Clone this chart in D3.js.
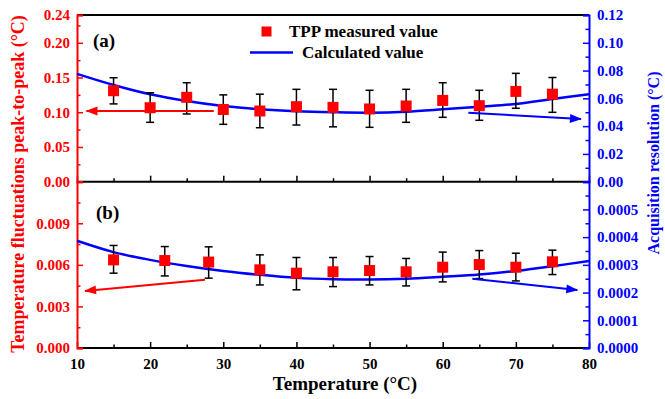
<!DOCTYPE html>
<html>
<head>
<meta charset="utf-8">
<script src="https://cdn.jsdelivr.net/npm/d3@7"></script>
<style>
  body { margin: 0; background: #fff; }
  svg text { font-family: "Liberation Serif", "Tinos", "Times New Roman", "DejaVu Serif", serif !important; font-weight: bold; }
</style>
</head>
<body>
<svg id="chart" width="665" height="399"></svg>
<script>
// measured temperatures
const tempsA = [15, 20, 25, 30, 35, 40, 45, 50, 55, 60, 65, 70, 75];
const tppA = [0.131, 0.1065, 0.1215, 0.104, 0.1018, 0.108, 0.107, 0.1047, 0.109, 0.117, 0.1094, 0.130, 0.126];
const tppAHi = [0.1497, 0.128, 0.1425, 0.125, 0.126, 0.133, 0.133, 0.1316, 0.133, 0.1425, 0.1316, 0.156, 0.150];
const tppALo = [0.112, 0.0855, 0.0975, 0.0826, 0.0777, 0.0816, 0.079, 0.0783, 0.0855, 0.0927, 0.0884, 0.1057, 0.0999];

const tempsB = [15, 22, 28, 35, 40, 45, 50, 55, 60, 65, 70, 75];
const tppB = [0.00636, 0.00631, 0.0062, 0.00564, 0.0054, 0.0055, 0.00559, 0.0055, 0.00583, 0.00602, 0.00583, 0.00622];
const tppBHi = [0.0074, 0.00732, 0.0073, 0.00672, 0.00653, 0.00653, 0.0066, 0.00646, 0.00692, 0.00703, 0.00684, 0.00706];
const tppBLo = [0.0054, 0.0052, 0.00504, 0.00455, 0.0042, 0.00443, 0.00455, 0.00448, 0.00477, 0.00501, 0.00484, 0.0053];

// calculated curves (right axis)
const calcT = [10, 15, 20, 25, 30, 35, 40, 45, 50, 55, 60, 65, 70, 75, 80];
const calcA = [0.0776, 0.0696, 0.0629, 0.0581, 0.0545, 0.0521, 0.0507, 0.0500, 0.0497, 0.0504, 0.0521, 0.0540, 0.0560, 0.0595, 0.0630];
const calcB = [0.000387, 0.000346, 0.000318, 0.000296, 0.000278, 0.000264, 0.000253, 0.000248, 0.000247, 0.00025, 0.000257, 0.000265, 0.000278, 0.000295, 0.000314];

const xTicks = [10, 20, 30, 40, 50, 60, 70, 80];
const leftTicksA = [0, 0.05, 0.10, 0.15, 0.20, 0.24];
const rightTicksA = [0, 0.02, 0.04, 0.06, 0.08, 0.10, 0.12];
const leftTicksB = [0, 0.003, 0.006, 0.009];
const rightTicksB = [0, 0.0001, 0.0002, 0.0003, 0.0004, 0.0005];

const RED = '#ff0000', BLUE = '#0000ff';
const FONT = '"Liberation Serif", "Tinos", "Times New Roman", "DejaVu Serif", serif';
const L = 77, R = 589, TOP = 15, MID = 181.7, BOT = 348;

const svg = d3.select('#chart');
const x = d3.scaleLinear().domain([10, 80]).range([L, R]);

const defs = svg.append('defs');
[['arrRed', RED], ['arrBlue', BLUE]].forEach(([id, c]) => {
  defs.append('marker')
    .attr('id', id)
    .attr('markerUnits', 'userSpaceOnUse')
    .attr('viewBox', '0 -5 12 10')
    .attr('refX', 11).attr('refY', 0)
    .attr('markerWidth', 14).attr('markerHeight', 10)
    .attr('orient', 'auto')
    .append('path')
      .attr('d', 'M0,-4.5L12,0L0,4.5Z')
      .attr('fill', c);
});

function panel(cfg) {
  const yL = d3.scaleLinear().domain([0, cfg.leftMax]).range([cfg.bottom, cfg.top]);
  const yR = d3.scaleLinear().domain([0, cfg.rightMax]).range([cfg.bottom, cfg.top]);
  const g = svg.append('g');

  // x axis ticks inward on panel bottom
  const xMinor = d3.range(15, 80, 10);
  g.append('g')
    .attr('transform', `translate(0,${cfg.bottom})`)
    .call(d3.axisBottom(x).tickValues(xMinor).tickSize(-3.5).tickFormat(''))
    .call(a => a.select('.domain').remove());
  const xa = g.append('g')
    .attr('transform', `translate(0,${cfg.bottom})`)
    .call(d3.axisBottom(x).tickValues(xTicks).tickSize(-6).tickPadding(10).tickFormat(cfg.showX ? d3.format('d') : ''));
  xa.select('.domain').remove();
  xa.selectAll('text').attr('font-size', 15).attr('fill', '#000');
  g.selectAll('.tick line').attr('stroke', '#000').attr('stroke-width', 1.5);

  // frame lines
  g.append('line').attr('x1', L).attr('x2', R).attr('y1', cfg.bottom).attr('y2', cfg.bottom)
    .attr('stroke', '#000').attr('stroke-width', 2);
  if (cfg.topLine) {
    g.append('line').attr('x1', L).attr('x2', R).attr('y1', cfg.top).attr('y2', cfg.top)
      .attr('stroke', '#000').attr('stroke-width', 2);
  }

  // left axis (red)
  const la = g.append('g').attr('transform', `translate(${L},0)`);
  la.append('g')
    .call(d3.axisLeft(yL).tickValues(cfg.leftMinor).tickSize(-3.5).tickFormat(''))
    .call(a => a.select('.domain').remove());
  la.append('g')
    .call(d3.axisLeft(yL).tickValues(cfg.leftTicks).tickSize(-6).tickPadding(7).tickFormat(d3.format(cfg.leftFmt)));
  la.selectAll('.domain').attr('stroke', RED).attr('stroke-width', 2);
  la.selectAll('.tick line').attr('stroke', RED).attr('stroke-width', 1.5);
  la.selectAll('text').attr('font-size', 15).attr('fill', RED);

  // right axis (blue)
  const ra = g.append('g').attr('transform', `translate(${R},0)`);
  ra.append('g')
    .call(d3.axisRight(yR).tickValues(cfg.rightMinor).tickSize(-3.5).tickFormat(''))
    .call(a => a.select('.domain').remove());
  ra.append('g')
    .call(d3.axisRight(yR).tickValues(cfg.rightTicks).tickSize(-6).tickPadding(8).tickFormat(d3.format(cfg.rightFmt)));
  ra.selectAll('.domain').attr('stroke', BLUE).attr('stroke-width', 2);
  ra.selectAll('.tick line').attr('stroke', BLUE).attr('stroke-width', 1.5);
  ra.selectAll('text').attr('font-size', 15).attr('fill', BLUE);

  g.selectAll('g').attr('font-family', FONT);

  // calculated curve
  g.append('path')
    .datum(calcT.map((t, i) => [t, cfg.calc[i]]))
    .attr('fill', 'none')
    .attr('stroke', BLUE)
    .attr('stroke-width', 2.5)
    .attr('d', d3.line().x(d => x(d[0])).y(d => yR(d[1])).curve(d3.curveCatmullRom));

  // error bars
  const eb = g.append('g').attr('stroke', '#000').attr('stroke-width', 1.5);
  cfg.temps.forEach((t, i) => {
    const cx = x(t);
    eb.append('line').attr('x1', cx).attr('x2', cx).attr('y1', yL(cfg.hi[i])).attr('y2', yL(cfg.lo[i]));
    eb.append('line').attr('x1', cx - 4).attr('x2', cx + 4).attr('y1', yL(cfg.hi[i])).attr('y2', yL(cfg.hi[i]));
    eb.append('line').attr('x1', cx - 4).attr('x2', cx + 4).attr('y1', yL(cfg.lo[i])).attr('y2', yL(cfg.lo[i]));
  });

  // measured squares
  g.append('g').selectAll('rect')
    .data(cfg.temps.map((t, i) => [t, cfg.vals[i]]))
    .join('rect')
      .attr('x', d => x(d[0]) - 5.5)
      .attr('y', d => yL(d[1]) - 5.5)
      .attr('width', 11).attr('height', 11)
      .attr('fill', RED);

  // arrows
  const ar = cfg.arrowL, ab = cfg.arrowR;
  g.append('line')
    .attr('x1', x(ar[0])).attr('y1', yL(ar[1])).attr('x2', x(ar[2])).attr('y2', yL(ar[3]))
    .attr('stroke', RED).attr('stroke-width', 2).attr('marker-end', 'url(#arrRed)');
  g.append('line')
    .attr('x1', x(ab[0])).attr('y1', yR(ab[1])).attr('x2', x(ab[2])).attr('y2', yR(ab[3]))
    .attr('stroke', BLUE).attr('stroke-width', 2).attr('marker-end', 'url(#arrBlue)');

  g.append('text')
    .attr('x', cfg.tagX).attr('y', cfg.tagY)
    .attr('font-size', 19).attr('fill', '#000')
    .text(cfg.tag);
}

panel({
  top: TOP, bottom: MID, leftMax: 0.24, rightMax: 0.12, topLine: true, showX: false,
  leftTicks: leftTicksA, leftMinor: d3.range(0.025, 0.24, 0.05), leftFmt: '.2f',
  rightTicks: rightTicksA, rightMinor: d3.range(0.01, 0.12, 0.02), rightFmt: '.2f',
  temps: tempsA, vals: tppA, hi: tppAHi, lo: tppALo, calc: calcA,
  arrowL: [28.7, 0.1018, 11.3, 0.1018], arrowR: [63.5, 0.0497, 78.9, 0.0451],
  tag: '(a)', tagX: 93, tagY: 47
});

panel({
  top: MID, bottom: BOT, leftMax: 0.012, rightMax: 0.0006, topLine: false, showX: true,
  leftTicks: leftTicksB, leftMinor: d3.range(0.0015, 0.012, 0.003), leftFmt: '.3f',
  rightTicks: rightTicksB, rightMinor: d3.range(0.00005, 0.0006, 0.0001), rightFmt: '.4f',
  temps: tempsB, vals: tppB, hi: tppBHi, lo: tppBLo, calc: calcB,
  arrowL: [27.5, 0.00492, 11.1, 0.00412], arrowR: [64.05, 0.00025, 78.4, 0.000209],
  tag: '(b)', tagX: 96, tagY: 219
});

// legend
const lg = svg.append('g');
lg.append('rect').attr('x', 261.5).attr('y', 26.5).attr('width', 10).attr('height', 10).attr('fill', RED);
lg.append('text').attr('x', 289).attr('y', 37).attr('font-size', 17).attr('fill', '#000').text('TPP measured value');
lg.append('line').attr('x1', 250).attr('x2', 293).attr('y1', 52.5).attr('y2', 52.5)
  .attr('stroke', BLUE).attr('stroke-width', 2.5);
lg.append('text').attr('x', 302).attr('y', 58).attr('font-size', 17).attr('fill', '#000').text('Calculated value');

// axis titles
svg.append('text')
  .attr('transform', `translate(24,${(5 + 363) / 2}) rotate(-90)`)
  .attr('text-anchor', 'middle')
  .attr('font-size', 18).attr('fill', RED)
  .text('Temperature fluctuations peak-to-peak  (°C)');
svg.append('text')
  .attr('transform', `translate(659,163) rotate(-90)`)
  .attr('text-anchor', 'middle')
  .attr('font-size', 16).attr('fill', BLUE)
  .text('Acquisition resolution (°C)');
svg.append('text')
  .attr('x', 345).attr('y', 390)
  .attr('text-anchor', 'middle')
  .attr('font-size', 19).attr('fill', '#000')
  .text('Temperature (°C)');

svg.selectAll('text').style('font-family', FONT).style('font-weight', 'bold');
</script>
</body>
</html>
